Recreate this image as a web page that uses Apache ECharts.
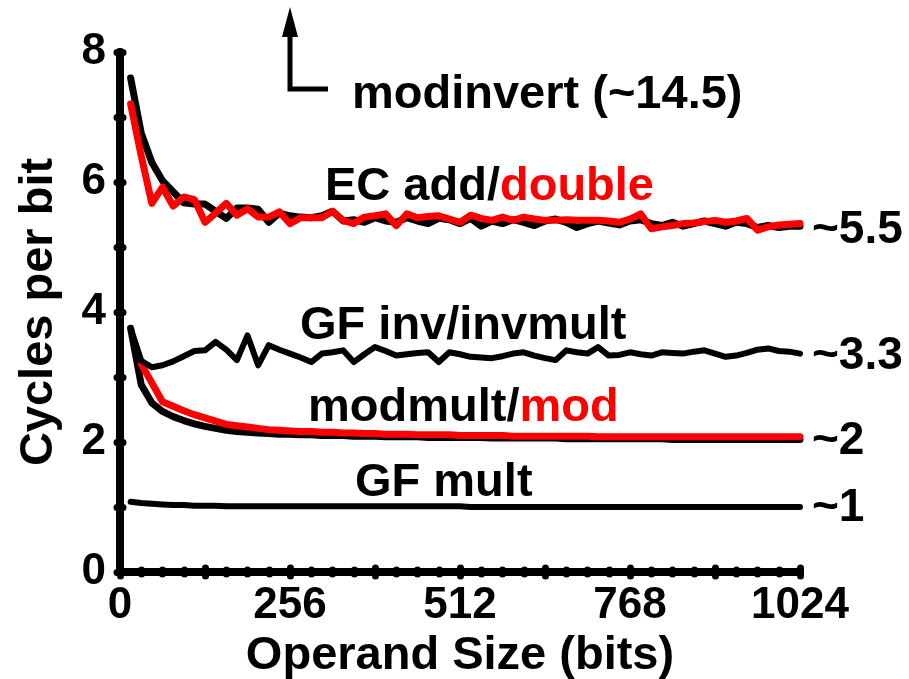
<!DOCTYPE html>
<html>
<head>
<meta charset="utf-8">
<script src="https://cdn.jsdelivr.net/npm/echarts@6/dist/echarts.min.js"></script>
<style>
  html, body { margin: 0; padding: 0; background: #fff; }
  #chart { width: 909px; height: 679px; }
</style>
</head>
<body>
<div id="chart"></div>
<script>
// operand sizes (bits)
const sizes = [
  16, 32, 48, 64, 80, 96, 112, 128,
  144, 160, 176, 192, 208, 224, 240, 256,
  272, 288, 304, 320, 336, 352, 368, 384,
  400, 416, 432, 448, 464, 480, 496, 512,
  528, 544, 560, 576, 592, 608, 624, 640,
  656, 672, 688, 704, 720, 736, 752, 768,
  784, 800, 816, 832, 848, 864, 880, 896,
  912, 928, 944, 960, 976, 992, 1008, 1024
]

const ecAdd = [
  7.60, 6.75, 6.30, 6.02, 5.85, 5.68, 5.66, 5.66,
  5.55, 5.44, 5.60, 5.60, 5.58, 5.38, 5.52, 5.48,
  5.46, 5.45, 5.48, 5.55, 5.40, 5.42, 5.38, 5.45,
  5.40, 5.38, 5.45, 5.40, 5.36, 5.44, 5.42, 5.36,
  5.44, 5.32, 5.40, 5.36, 5.42, 5.38, 5.33, 5.40,
  5.43, 5.38, 5.30, 5.36, 5.40, 5.37, 5.34, 5.40,
  5.42, 5.36, 5.33, 5.38, 5.32, 5.36, 5.40, 5.36,
  5.32, 5.38, 5.36, 5.30, 5.33, 5.30, 5.32, 5.32
]

const ecDouble = [
  7.20, 6.40, 5.67, 5.92, 5.63, 5.77, 5.73, 5.38,
  5.52, 5.67, 5.49, 5.59, 5.46, 5.46, 5.54, 5.36,
  5.45, 5.45, 5.45, 5.55, 5.41, 5.36, 5.46, 5.48,
  5.51, 5.33, 5.51, 5.45, 5.47, 5.48, 5.43, 5.38,
  5.49, 5.44, 5.41, 5.46, 5.41, 5.46, 5.43, 5.41,
  5.41, 5.42, 5.41, 5.41, 5.41, 5.40, 5.38, 5.43,
  5.51, 5.28, 5.31, 5.33, 5.36, 5.37, 5.39, 5.41,
  5.38, 5.40, 5.44, 5.26, 5.31, 5.34, 5.35, 5.36
]

const gfInv = [
  3.75, 3.25, 3.15, 3.18, 3.24, 3.32, 3.40, 3.41,
  3.54, 3.42, 3.26, 3.64, 3.18, 3.49, 3.42, 3.36,
  3.30, 3.23, 3.36, 3.38, 3.41, 3.23, 3.35, 3.46,
  3.40, 3.33, 3.35, 3.37, 3.38, 3.23, 3.38, 3.35,
  3.31, 3.30, 3.29, 3.32, 3.36, 3.38, 3.33, 3.29,
  3.26, 3.41, 3.38, 3.36, 3.46, 3.33, 3.34, 3.38,
  3.35, 3.33, 3.38, 3.37, 3.36, 3.39, 3.41, 3.36,
  3.31, 3.33, 3.37, 3.42, 3.44, 3.40, 3.39, 3.36
]

const modMult = [
  3.75, 2.88, 2.60, 2.47, 2.39, 2.33, 2.28, 2.24,
  2.21, 2.18, 2.16, 2.15, 2.14, 2.13, 2.12, 2.12,
  2.11, 2.11, 2.10, 2.10, 2.10, 2.09, 2.09, 2.09,
  2.08, 2.08, 2.08, 2.08, 2.07, 2.07, 2.07, 2.07,
  2.07, 2.07, 2.06, 2.06, 2.06, 2.06, 2.06, 2.06,
  2.06, 2.05, 2.05, 2.05, 2.05, 2.05, 2.05, 2.05,
  2.05, 2.05, 2.05, 2.04, 2.04, 2.04, 2.04, 2.04,
  2.04, 2.04, 2.04, 2.04, 2.04, 2.04, 2.04, 2.04
]

const modRed = [
  null, 3.20, 2.91, 2.62, 2.55, 2.48, 2.42, 2.37,
  2.32, 2.27, 2.25, 2.23, 2.21, 2.19, 2.18, 2.17,
  2.16, 2.16, 2.15, 2.15, 2.14, 2.14, 2.13, 2.13,
  2.12, 2.12, 2.12, 2.11, 2.11, 2.11, 2.11, 2.10,
  2.10, 2.10, 2.10, 2.10, 2.09, 2.09, 2.09, 2.09,
  2.09, 2.09, 2.09, 2.09, 2.08, 2.08, 2.08, 2.08,
  2.08, 2.08, 2.08, 2.08, 2.08, 2.08, 2.08, 2.08,
  2.08, 2.08, 2.08, 2.08, 2.08, 2.08, 2.08, 2.08
]

const gfMult = [
  1.08, 1.06, 1.05, 1.04, 1.03, 1.03, 1.02, 1.02,
  1.02, 1.01, 1.01, 1.01, 1.01, 1.01, 1.01, 1.01,
  1.01, 1.01, 1.01, 1.01, 1.01, 1.01, 1.01, 1.01,
  1.01, 1.01, 1.01, 1.01, 1.01, 1.01, 1.01, 1.01,
  1.00, 1.00, 1.00, 1.00, 1.00, 1.00, 1.00, 1.00,
  1.00, 1.00, 1.00, 1.00, 1.00, 1.00, 1.00, 1.00,
  1.00, 1.00, 1.00, 1.00, 1.00, 1.00, 1.00, 1.00,
  1.00, 1.00, 1.00, 1.00, 1.00, 1.00, 1.00, 1.00
]

const FONT = '"Liberation Sans", Arial, Helvetica, sans-serif'

function pairs(vals) {
  const out = []
  vals.forEach((v, i) => { if (v !== null) out.push([sizes[i], v]) })
  return out
}

function line(name, vals, color, width, endText, offsetY) {
  const s = {
    name: name,
    type: 'line',
    data: pairs(vals),
    showSymbol: false,
    symbol: 'none',
    clip: false,
    lineStyle: { color: color, width: width, cap: 'round', join: 'round' }
  }
  if (endText) {
    s.endLabel = {
      show: true,
      formatter: endText,
      distance: 12,
      offset: [0, offsetY],
      color: '#000',
      fontFamily: FONT,
      fontWeight: 'bold',
      fontSize: 46
    }
  }
  return s
}

const tickStyle = { color: '#000', width: 7, cap: 'round' }

const chart = echarts.init(document.getElementById('chart'))
chart.setOption({
  animation: false,
  backgroundColor: '#fff',
  grid: { left: 120, top: 52, width: 680, height: 520, outerBoundsMode: 'none', containLabel: false },
  xAxis: [
    {
      type: 'value',
      min: 0, max: 1024, interval: 128,
      name: 'Operand Size (bits)',
      nameLocation: 'middle',
      nameGap: 44,
      nameTextStyle: { color: '#000', fontFamily: FONT, fontWeight: 'bold', fontSize: 47 },
      axisLine: { lineStyle: { color: '#000', width: 8 } },
      axisTick: { inside: true, length: 4, lineStyle: tickStyle },
      minorTick: { show: true, splitNumber: 4, length: 2, lineStyle: tickStyle },
      splitLine: { show: false },
      axisLabel: {
        color: '#000', fontFamily: FONT, fontWeight: 'bold', fontSize: 44, margin: 12,
        formatter: v => (v % 256 === 0 ? String(v) : '')
      }
    },
    {
      type: 'value', position: 'top',
      min: 0, max: 1024, interval: 128,
      axisLine: { lineStyle: { color: '#000', width: 8 } },
      axisTick: { inside: true, length: 4, lineStyle: tickStyle },
      minorTick: { show: true, splitNumber: 4, length: 2, lineStyle: tickStyle },
      splitLine: { show: false },
      axisLabel: { show: false }
    }
  ],
  yAxis: [
    {
      type: 'value',
      min: 0, max: 8, interval: 1,
      name: 'Cycles per bit',
      nameLocation: 'middle',
      nameGap: 57,
      nameTextStyle: { color: '#000', fontFamily: FONT, fontWeight: 'bold', fontSize: 47 },
      axisLine: { lineStyle: { color: '#000', width: 8 } },
      axisTick: { inside: true, length: 3, lineStyle: tickStyle },
      splitLine: { show: false },
      axisLabel: {
        color: '#000', fontFamily: FONT, fontWeight: 'bold', fontSize: 44, margin: 14,
        formatter: v => (v % 2 === 0 ? String(v) : '')
      }
    },
    {
      type: 'value', position: 'right',
      min: 0, max: 8, interval: 1,
      axisLine: { lineStyle: { color: '#000', width: 8 } },
      axisTick: { inside: true, length: 3, lineStyle: tickStyle },
      splitLine: { show: false },
      axisLabel: { show: false }
    }
  ],
  series: [
    line('GF mult', gfMult, '#000', 6, '~1', 1),
    line('modmult', modMult, '#000', 7, '~2', 2),
    line('mod', modRed, '#ff0000', 7),
    line('GF inv/invmult', gfInv, '#000', 6, '~3.3', 3),
    line('EC add', ecAdd, '#000', 7, '~5.5', 4),
    line('double', ecDouble, '#ff0000', 7)
  ],
  graphic: [
    {
      type: 'polyline',
      shape: { points: [[328, 89], [290, 89], [290, 30]] },
      style: { stroke: '#000', lineWidth: 5, fill: null }
    },
    {
      type: 'polygon',
      shape: { points: [[282, 37], [298, 37], [290, 7]] },
      style: { fill: '#000' }
    },
    {
      type: 'text', x: 352, y: 95,
      style: { text: 'modinvert (~14.5)', fill: '#000', font: 'bold 47px ' + FONT, verticalAlign: 'middle' }
    },
    {
      type: 'text', x: 325, y: 187,
      style: {
        text: '{k|EC add/}{r|double}', verticalAlign: 'middle',
        rich: {
          k: { fill: '#000', fontFamily: FONT, fontWeight: 'bold', fontSize: 47 },
          r: { fill: '#ff0000', fontFamily: FONT, fontWeight: 'bold', fontSize: 47 }
        }
      }
    },
    {
      type: 'text', x: 300, y: 326,
      style: { text: 'GF inv/invmult', fill: '#000', font: 'bold 47px ' + FONT, verticalAlign: 'middle' }
    },
    {
      type: 'text', x: 308, y: 408,
      style: {
        text: '{k|modmult/}{r|mod}', verticalAlign: 'middle',
        rich: {
          k: { fill: '#000', fontFamily: FONT, fontWeight: 'bold', fontSize: 47 },
          r: { fill: '#ff0000', fontFamily: FONT, fontWeight: 'bold', fontSize: 47 }
        }
      }
    },
    {
      type: 'text', x: 355, y: 483,
      style: { text: 'GF mult', fill: '#000', font: 'bold 47px ' + FONT, verticalAlign: 'middle' }
    }
  ]
})
</script>
</body>
</html>
